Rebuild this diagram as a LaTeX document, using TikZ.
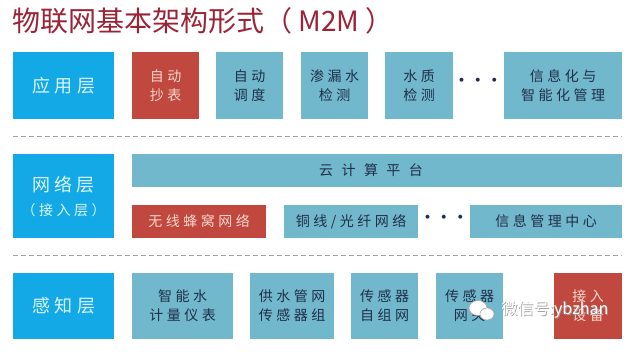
\documentclass[tikz,border=0pt]{standalone}
\usepackage{fontspec}
\setmainfont{Noto Sans CJK SC}
\newfontfamily\cjk{Noto Sans CJK SC}
\newfontfamily\cjksp[LetterSpace=25]{Noto Sans CJK SC}
\newfontfamily\cjkwide[LetterSpace=60]{Noto Sans CJK SC}
\definecolor{layerblue}{HTML}{12A9E6}
\definecolor{tealbox}{HTML}{72B8CC}
\definecolor{redbox}{HTML}{C0483F}
\definecolor{navytext}{HTML}{1F2E4A}
\definecolor{layertext}{HTML}{DDF5FF}
\definecolor{redtext}{HTML}{F6D8CC}
\definecolor{titlered}{HTML}{9B2335}
\definecolor{dashgray}{HTML}{9AA0A8}
\tikzset{
  base/.style={inner sep=0pt, outer sep=0pt, align=center, font=\cjksp\fontsize{14}{19}\selectfont},
  layerbox/.style={base, fill=layerblue, text=layertext, font=\cjksp\fontsize{18}{24}\selectfont},
  tealnode/.style={base, fill=tealbox, text=navytext},
  rednode/.style={base, fill=redbox, text=redtext},
  sep/.style={dashgray, dashed, dash pattern=on 5pt off 3pt, line width=0.8pt},
  dotsnode/.style={inner sep=0pt, text=navytext, font=\cjk\bfseries\fontsize{14}{14}\selectfont},
}
\newcommand\bx[7]{\node[#6, minimum width={#4pt-#2pt}, minimum height={#5pt-#3pt}] (#1) at ({(#2+#4)/2},{(#3+#5)/2}) {#7};}
\begin{document}
\begin{tikzpicture}[x=1pt,y=-1pt]
\useasboundingbox[fill=white] (0,0) rectangle (636,356);
% title
\node[anchor=west, inner sep=0pt, text=titlered, font=\cjk\fontsize{28}{30}\selectfont] (title) at (12,21) {物联网基本架构形式（ M2M ）};
% row 1
\bx{app}{13}{52}{114}{119}{layerbox}{应用层}
\bx{a1}{132}{52}{199}{119}{rednode}{自动\\抄表}
\bx{a2}{216}{52}{283}{119}{tealnode}{自动\\调度}
\bx{a3}{301}{52}{368}{119}{tealnode}{渗漏水\\检测}
\bx{a4}{385}{52}{453}{119}{tealnode}{水质\\检测}
\node[dotsnode] (ad) at (478,82) {·\,·\,·};
\bx{a5}{504}{52}{622}{119}{tealnode}{信息化与\\智能化管理}
\coordinate (s1l) at (13,136);
\coordinate (s1r) at (622,136);
\draw[sep] (s1l) -- (s1r);
% row 2
\bx{net}{13}{154}{114}{238}{layerbox}{网络层\\{\fontsize{14}{20}\selectfont （接入层）}}
\bx{cloud}{132}{154}{622}{187}{tealnode}{\cjkwide 云计算平台\hspace*{12pt}}
\bx{n1}{132}{205}{266}{238}{rednode}{无线蜂窝网络}
\bx{n2}{284}{205}{418}{238}{tealnode}{铜线/光纤网络}
\node[dotsnode] (nd) at (444,219) {·\,·\,·};
\bx{n3}{470}{205}{622}{238}{tealnode}{信息管理中心}
\coordinate (s2l) at (13,255);
\coordinate (s2r) at (622,255);
\draw[sep] (s2l) -- (s2r);
% row 3
\bx{sense}{13}{273}{114}{339}{layerbox}{感知层}
\bx{p1}{132}{273}{233}{339}{tealnode}{智能水\\计量仪表}
\bx{p2}{250}{273}{334}{339}{tealnode}{供水管网\\传感器组}
\bx{p3}{351}{273}{418}{339}{tealnode}{传感器\\自组网}
\bx{p4}{436}{273}{503}{339}{tealnode}{传感器\\网关}
\bx{p5}{554}{273}{622}{339}{rednode}{接入\\设备}
% watermark
\fill[white, draw=gray!70, line width=0.6pt] (478,308) ellipse (9 and 7.5);
\fill[white, draw=gray!70, line width=0.6pt] (487,314) ellipse (7 and 6);
\node[text=gray!75, inner sep=0pt, font=\cjk\fontsize{16}{16}\selectfont] (wmshadow) at (555.8,310.8) {微信号:ybzhan};
\node[text=white, inner sep=0pt, font=\cjk\fontsize{16}{16}\selectfont] (wm) at (555,310) {微信号:ybzhan};
\end{tikzpicture}
\end{document}
